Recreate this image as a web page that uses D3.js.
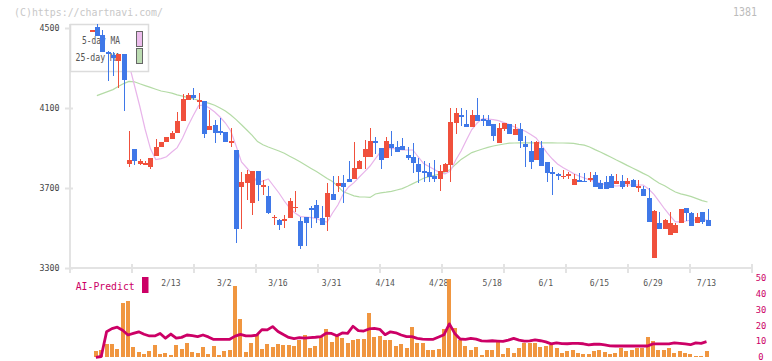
<!DOCTYPE html>
<html>
<head>
<meta charset="utf-8">
<script src="https://cdn.jsdelivr.net/npm/d3@7/dist/d3.min.js"></script>
<style>
body { margin: 0; background: #fff; }
text { font-family: "DejaVu Sans Mono", monospace; }
</style>
</head>
<body>
<script>
// daily candles, index 0 = first day shown
let opens  = [4487,4503,4465,4381,4365,4336,4370,3820,3893,3820, 3822,3806,3860,3903,3930,3945,3976,4036,4140,4163,
              4131,4135,3990,4015,3986,3980,3932,3890,3706,3723, 3626,3786,3706,3660,3548,3540,3536,3551,3604,3535,
              3555,3601,3615,3551,3556,3670,3710,3725,3745,3746, 3796,3856,3856,3935,3900,3848,3920,3905,3911,3865,
              3855,3820,3785,3778,3760,3745,3780,3816,4026,4065, 4020,4006,4065,4045,4040,4020,3926,3996,4020,3966,
              3995,3920,3885,3840,3900,3831,3781,3770,3760,3767, 3713,3740,3736,3741,3765,3726,3730,3760,3721,3735,
              3721,3740,3703,3695,3650,3350,3525,3495,3465,3475, 3525,3600,3575,3525,3580,3540];
let highs  = [4492,4520,4490,4385,4381,4370,4372,3985,3895,3845, 3833,3851,3946,3930,3956,3985,4081,4170,4173,4198,
              4176,4135,4090,4040,4048,3980,4000,3890,3781,3790, 3786,3786,3740,3710,3565,3543,3565,3651,3685,3556,
              3555,3610,3640,3610,3725,3758,3758,3765,3835,3930, 3840,3940,4000,3953,3900,3953,3985,3933,3950,3905,
              3925,3850,3835,3823,3840,3815,3825,4100,4100,4100, 4090,4090,4150,4065,4065,4020,4026,4025,4020,4020,
              4023,3960,3935,3935,3936,3831,3806,3776,3790,3781, 3768,3775,3773,3780,3780,3740,3760,3770,3770,3765,
              3748,3745,3740,3710,3701,3590,3581,3545,3581,3525, 3595,3600,3581,3575,3580,3595];
let lows   = [4486,4460,4380,4236,4260,4198,4086,3806,3815,3815, 3813,3796,3860,3903,3930,3945,3976,4036,4140,4140,
              4093,3948,3990,3926,3965,3931,3906,3426,3495,3640, 3565,3635,3665,3570,3515,3490,3501,3551,3581,3393,
              3411,3501,3526,3516,3486,3641,3681,3626,3731,3746, 3796,3793,3856,3870,3795,3848,3860,3881,3890,3840,
              3776,3726,3731,3731,3731,3686,3780,3731,3970,4011, 4006,4006,4036,4011,4011,3935,3926,3985,3970,3966,
              3901,3806,3795,3840,3811,3731,3665,3740,3745,3745, 3713,3731,3728,3731,3703,3693,3696,3701,3721,3693,
              3706,3703,3681,3661,3531,3350,3495,3495,3465,3475, 3525,3535,3510,3525,3520,3510];
let closes = [4490,4461,4381,4368,4348,4370,4240,3840,3836,3836, 3824,3851,3903,3930,3956,3973,4035,4145,4165,4151,
              4140,3971,4010,3976,3976,3931,3934,3495,3728,3770, 3786,3715,3715,3576,3556,3515,3545,3635,3606,3411,
              3526,3590,3548,3516,3675,3641,3725,3705,3731,3800, 3835,3895,3935,3925,3841,3935,3900,3881,3890,3851,
              3826,3781,3775,3756,3746,3785,3820,4030,4075,4053, 4006,4065,4036,4036,4011,3961,4000,4025,3971,3995,
              3936,3906,3831,3930,3811,3776,3771,3761,3762,3769, 3743,3733,3728,3751,3703,3693,3696,3701,3733,3706,
              3733,3703,3710,3661,3531,3585,3495,3540,3525,3515, 3595,3573,3510,3555,3530,3510];

// moving averages as drawn
let ma5  = [4470,4475,4460,4440,4410,4385,4350,4320,4215,4110, 3995,3897,3842,3847,3856,3880,3902,3950,4010,4062,
            4112,4115,4100,4080,4055,4025,3985,3910,3830,3800, 3770,3725,3735,3745,3710,3675,3635,3600,3575,3557,
            3555,3552,3548,3535,3530,3575,3615,3670,3705,3727, 3755,3782,3810,3847,3882,3892,3898,3895,3890,3890,
            3890,3855,3822,3807,3792,3777,3771,3785,3840,3885, 3940,3992,4025,4047,4045,4042,4037,4027,4017,4005,
            3994,3984,3967,3950,3915,3877,3846,3820,3802,3787, 3772,3760,3750,3740,3732,3723,3717,3712,3710,3712,
            3715,3715,3715,3715,3695,3668,3632,3595,3562,3531, 3531,3535,3540,3540,3540,3540];
let ma25 = [null,4162,4172,4182,4192,4207,4222,4233,4231,4221, 4212,4203,4194,4185,4180,4174,4166,4159,4152,4146,
            4138,4130,4123,4114,4100,4085,4065,4042,4016,3990, 3963,3932,3916,3905,3895,3885,3874,3859,3845,3830,
            3814,3798,3782,3765,3748,3732,3708,3681,3671,3661, 3656,3655,3653,3670,3676,3679,3683,3690,3697,3709,
            3722,3735,3749,3757,3763,3770,3780,3792,3819,3843, 3860,3877,3886,3895,3903,3910,3915,3920,3924,3925,
            3926,3926,3926,3926,3926,3926,3926,3925,3925,3924, 3923,3918,3914,3905,3892,3880,3867,3854,3840,3827,
            3813,3800,3787,3773,3760,3741,3724,3711,3695,3680, 3671,3664,3657,3647,3637,3630];

// lower panel
let volume = [0,4.0,4.8,8.2,8.6,5.5,33.8,35.4,6.5,3.6, 2.3,4.2,8.0,2.3,2.5,1.5,8.0,5.5,9.0,3.4,
              2.7,6.5,2.3,7.1,1.5,4.2,4.8,45.1,24.1,3.4, 9.0,14.7,5.2,8.4,6.5,8.4,7.8,7.8,7.1,10.9,
              14.0,5.9,7.3,13.0,17.8,9.9,13.6,12.4,9.2,10.7, 11.3,11.3,28.1,12.8,13.2,10.7,11.1,7.1,8.4,5.9,
              19.1,9.0,9.0,4.6,4.6,5.2,17.8,49.3,18.4,10.9, 7.1,4.6,6.5,1.5,4.6,4.6,10.9,2.1,5.9,2.7,
              5.9,9.0,9.0,9.0,6.5,7.1,7.8,5.9,2.7,4.0, 4.6,2.7,2.1,2.1,4.0,4.6,3.4,2.1,2.7,5.9,
              4.0,4.6,5.9,5.9,12.8,10.3,4.6,4.6,5.9,2.7, 4.0,2.7,2.1,0.8,0.8,4.0];
let aiPredict = [null,0,0.5,16,18,18.9,17,14,15,16, 14.5,13.4,13.4,15,12,14.6,12,12.5,14,13.6,
                 13,14,12.8,11.2,11.2,11.3,11.3,13.3,14.4,13.5, 13.4,13.9,17.4,17.2,19.3,16.2,14.3,12.5,11.8,12.3,
                 12.0,12.4,12.6,13,15.1,15.0,13.5,15.3,15,19.5, 16.8,16.5,17.8,18.2,17.6,14.2,16.0,15.4,14,13,
                 13,11.9,11.4,11.3,11.3,12.7,14.2,21,15,11.5, 11.3,11.9,11.4,10.3,10.2,10.4,10.2,10,10.8,11.9,
                 10.8,10.1,10.3,10.9,10.4,9.7,8.4,9.1,8.6,8.5, 8.8,8.8,8.5,7.8,8.2,8.3,7.8,7.2,7.1,7.1,
                 7.1,7.1,7.1,7.1,7.1,8.4,8.4,8.4,8.4,9.0, 8.8,8.4,7.9,9.1,8.8,9.8];

// date labels every 10 sessions
let dateLabels = ["2/13","3/2","3/16","3/31","4/14","4/28","5/18","6/1","6/15","6/29","7/13"];
let dateIdx    = [15,25,35,45,55,65,75,85,95,105,115];
let priceTicks = [3300,3700,4100,4500];
let predTicks  = [0,10,20,30,40,50];

let width = 772;
let height = 361;
let red = "#f0503c", blue = "#3f78e8";

let n = closes.length;
let x = d3.scaleLinear().domain([0, n - 1]).range([91.5, 707.5]);
let y = d3.scaleLinear().domain([3300, 4500]).range([268, 28]);
let yv = d3.scaleLinear().domain([0, 50]).range([357.3, 277.7]);

let svg = d3.select("body")
    .append("svg")
    .attr("width", width)
    .attr("height", height);

//header texts

svg.append("text")
    .attr("x", 14).attr("y", 16)
    .attr("font-size", "11px")
    .attr("textLength", 149).attr("lengthAdjust", "spacingAndGlyphs")
    .attr("fill", "#c8c8c8")
    .text("(C)https://chartnavi.com/");

svg.append("text")
    .attr("x", 733).attr("y", 16)
    .attr("font-size", "12px")
    .attr("textLength", 24).attr("lengthAdjust", "spacingAndGlyphs")
    .attr("fill", "#bbb")
    .text("1381");

//axes frame

let axisColor = "#e3e3e3";
svg.append("line")
    .attr("x1", 70).attr("x2", 70).attr("y1", 24).attr("y2", 271)
    .attr("stroke", axisColor).attr("stroke-width", 2);
svg.append("line")
    .attr("x1", 70).attr("x2", 752).attr("y1", 268).attr("y2", 268)
    .attr("stroke", axisColor).attr("stroke-width", 2);

svg.selectAll(".xgrid")
    .data(d3.range(12))
    .enter()
    .append("line")
    .attr("class", "xgrid")
    .attr("x1", d => 70 + d * 62).attr("x2", d => 70 + d * 62)
    .attr("y1", 264).attr("y2", 273)
    .attr("stroke", axisColor).attr("stroke-width", 2);

let yAxis = svg.append("g")
    .attr("transform", "translate(70,0)")
    .call(d3.axisLeft(y).tickValues(priceTicks).tickFormat(d3.format("d"))
        .tickSizeInner(5).tickSizeOuter(0).tickPadding(5.5));
yAxis.select(".domain").remove();
yAxis.selectAll(".tick line").attr("x1", 3).attr("stroke", axisColor).attr("stroke-width", 2);
yAxis.selectAll(".tick text")
    .attr("font-family", "DejaVu Sans Mono").attr("font-size", "8px")
    .attr("fill", "#444")
    .attr("textLength", 20).attr("lengthAdjust", "spacingAndGlyphs");

svg.selectAll(".dlabel")
    .data(dateLabels)
    .enter()
    .append("text")
    .attr("class", "dlabel")
    .attr("x", (d, i) => x(dateIdx[i]) - 1)
    .attr("y", 285.5)
    .attr("text-anchor", "middle")
    .attr("font-size", "8px")
    .attr("fill", "#555")
    .attr("textLength", d => d.length * 4.85).attr("lengthAdjust", "spacingAndGlyphs")
    .text(d => d);

//moving averages

let lineOf = arr => d3.line()
    .defined(d => d != null)
    .x((d, i) => x(i))
    .y(d => y(d))(arr);

svg.append("path")
    .attr("d", lineOf(ma25))
    .attr("fill", "none").attr("stroke", "#b4dba6").attr("stroke-width", 1.2);
svg.append("path")
    .attr("d", lineOf(ma5))
    .attr("fill", "none").attr("stroke", "#e8b4ea").attr("stroke-width", 1.2);

//legend

svg.append("rect")
    .attr("x", 70.5).attr("y", 24.5).attr("width", 78).attr("height", 47)
    .attr("fill", "#fff").attr("stroke", "#dcdcdc").attr("stroke-width", 1.5);
let legendRows = [["5-day MA", "#ecbdec", 31.5, 43.5, 38], ["25-day MA", "#bcdcb2", 48.5, 61, 44.5]];
legendRows.forEach(r => {
    svg.append("text")
        .attr("x", 120).attr("y", r[3])
        .attr("text-anchor", "end")
        .attr("font-size", "10.5px").attr("fill", "#555")
        .attr("textLength", r[4]).attr("lengthAdjust", "spacingAndGlyphs")
        .text(r[0]);
    svg.append("rect")
        .attr("x", 136.5).attr("y", r[2]).attr("width", 6).attr("height", 15)
        .attr("fill", r[1]).attr("stroke", "#666").attr("stroke-width", 1);
});

//candles

let candles = svg.selectAll(".candle")
    .data(closes)
    .enter()
    .append("g")
    .attr("class", "candle")
    .attr("shape-rendering", "crispEdges");

candles.append("line")
    .attr("x1", (d, i) => Math.round(x(i)) + 0.5)
    .attr("x2", (d, i) => Math.round(x(i)) + 0.5)
    .attr("y1", (d, i) => y(highs[i]))
    .attr("y2", (d, i) => y(lows[i]))
    .attr("stroke", (d, i) => d >= opens[i] ? red : blue)
    .attr("stroke-width", 1);

candles.append("rect")
    .attr("x", (d, i) => Math.round(x(i)) - 2)
    .attr("width", 5)
    .attr("y", (d, i) => y(Math.max(d, opens[i])))
    .attr("height", (d, i) => Math.max(1.5, Math.abs(y(d) - y(opens[i]))))
    .attr("fill", (d, i) => d >= opens[i] ? red : blue);

//lower panel

svg.selectAll(".vol")
    .data(volume)
    .enter()
    .append("rect")
    .attr("class", "vol")
    .attr("shape-rendering", "crispEdges")
    .attr("x", (d, i) => Math.round(x(i)) - 3)
    .attr("width", 4)
    .attr("y", d => yv(d))
    .attr("height", d => yv(0) - yv(d))
    .attr("fill", "#f09640");

svg.append("path")
    .attr("d", d3.line()
        .defined(d => d != null)
        .x((d, i) => x(i) - 1)
        .y(d => yv(d))(aiPredict))
    .attr("fill", "none")
    .attr("stroke", "#cc0066")
    .attr("stroke-width", 2.8)
    .attr("stroke-linejoin", "round");

svg.append("text")
    .attr("x", 75.7).attr("y", 289.5)
    .attr("font-size", "10.5px").attr("fill", "#cc0066")
    .attr("textLength", 59).attr("lengthAdjust", "spacingAndGlyphs")
    .text("AI-Predict");
svg.append("rect")
    .attr("x", 142).attr("y", 277).attr("width", 6.5).attr("height", 16)
    .attr("fill", "#cc0066");

let rAxis = svg.append("g")
    .attr("transform", "translate(761,0)")
    .call(d3.axisRight(yv).tickValues(predTicks).tickSize(0).tickPadding(0));
rAxis.select(".domain").remove();
rAxis.selectAll(".tick text")
    .attr("text-anchor", "middle")
    .attr("font-family", "DejaVu Sans Mono").attr("font-size", "8px")
    .attr("fill", "#cc0066")
    .attr("textLength", d => String(d).length * 5.3).attr("lengthAdjust", "spacingAndGlyphs");
</script>
</body>
</html>
